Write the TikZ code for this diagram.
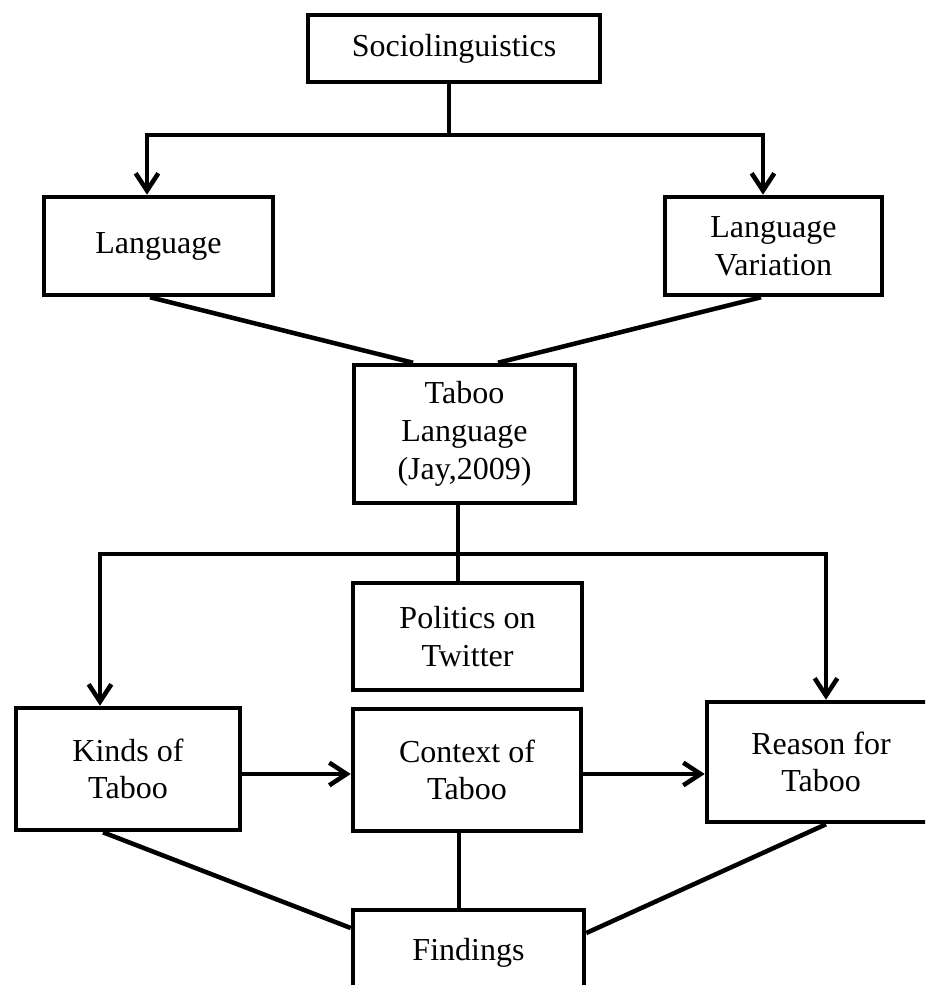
\documentclass[tikz,border=0pt]{standalone}
\usepackage{fontspec}
\setmainfont{Liberation Serif}
\usetikzlibrary{arrows.meta,calc}
\begin{document}
\begin{tikzpicture}[x=0.75pt,y=-0.75pt,
  box/.style={draw, line width=3.4pt, align=center, inner sep=0pt,
    font=\fontsize{24}{28.3}\selectfont},
  conn/.style={line width=3.4pt},
  thin/.style={line width=2.7pt},
  arr/.style={line width=3.4pt, -{Straight Barb[length=13pt,width=17pt,line width=3.4pt]}}]
\useasboundingbox (0,0) rectangle (925,985);
\clip (0,0) rectangle (925,985);
\fill[white] (0,0) rectangle (925,985);

\node[box, minimum width=292*0.75pt, minimum height=67*0.75pt] (soc) at (454,48.5) {Sociolinguistics};
\node[box, minimum width=229*0.75pt, minimum height=98*0.75pt] (lang) at (158.5,246) {Language};
\node[box, minimum width=217*0.75pt, minimum height=98*0.75pt] (var) at (773.5,246) {Language\\Variation};
\node[box, minimum width=221*0.75pt, minimum height=138*0.75pt] (tab) at (464.5,434) {Taboo\\Language\\(Jay,2009)};
\node[box, minimum width=229*0.75pt, minimum height=107*0.75pt] (pol) at (467.5,636.5) {Politics on\\Twitter};
\node[box, minimum width=224*0.75pt, minimum height=122*0.75pt] (kinds) at (128,769) {Kinds of\\Taboo};
\node[box, minimum width=228*0.75pt, minimum height=122*0.75pt] (ctx) at (467,770) {Context of\\Taboo};
\node[box, minimum width=228*0.75pt, minimum height=120*0.75pt] (rea) at (821,762) {Reason for\\Taboo};
\node[box, minimum width=231*0.75pt, minimum height=85*0.75pt] (find) at (468.5,952.5) {Findings};

% top tree
\coordinate (j1) at (449,135);
\draw[conn] (soc.south -| j1) -- (j1);
\draw[arr] (j1) -| ($(lang.north)+(-11.5,0)$);
\draw[arr] (j1) -| ($(var.north)+(-10.5,0)$);

% converge to taboo
\draw[conn] ($(lang.south)+(-8.5,0)$) -- ($(tab.north)+(-51.5,0)$);
\draw[conn] ($(var.south)+(-12.5,0)$) -- ($(tab.north)+(33.5,0)$);

% taboo stem and branches
\coordinate (j2) at (458,554);
\draw[thin] (tab.south -| j2) -- (pol.north -| j2);
\draw[arr] ($(j2)+(1.5,0)$) -| ($(kinds.north)+(-28,0)$);
\draw[arr] ($(j2)+(-1.5,0)$) -| ($(rea.north)+(5,0)$);

% horizontal arrows
\coordinate (ay) at (0,774);
\draw[arr] (kinds.east |- ay) -- (ctx.west |- ay);
\draw[arr] (ctx.east |- ay) -- (rea.west |- ay);

% to findings
\draw[conn] ($(kinds.south)+(-25,0)$) -- ($(find.west)+(0,-24.5)$);
\draw[thin] ($(ctx.south)+(-8,0)$) -- ($(find.north)+(-9.5,0)$);
\draw[conn] ($(rea.south)+(5,0)$) -- ($(find.east)+(0,-19.5)$);
\end{tikzpicture}
\end{document}
